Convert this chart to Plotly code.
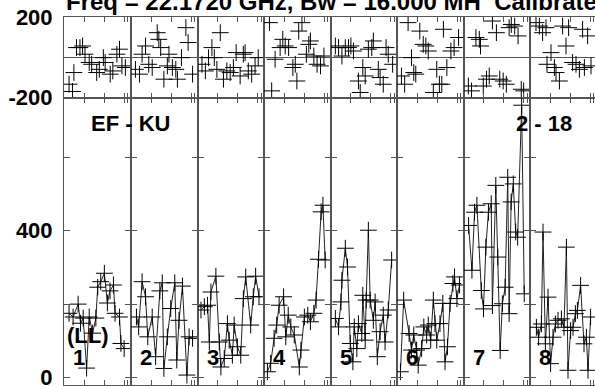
import plotly.graph_objects as go
from plotly.subplots import make_subplots

TITLE = "Freq = 22.1720 GHz, Bw = 16.000 MH  Calibrate"
BASELINE = "EF - KU"
PAIR = "2 - 18"
POL = "(LL)"
CHANNELS = ["1", "2", "3", "4", "5", "6", "7", "8"]

# one list per channel panel; time in hours inside the panel
PHASE_T = [
    [0.25, 0.42, 0.49, 0.62, 0.79, 0.92, 1.04, 1.25, 1.37, 1.62, 1.75, 1.95, 2.04, 2.29, 2.42, 2.62, 2.75, 2.87, 3.04],
    [0.22, 0.42, 0.55, 0.72, 0.88, 1.05, 1.3, 1.38, 1.47, 1.63, 1.8, 1.88, 2.05, 2.22, 2.3, 2.5, 2.72, 2.83, 3.05],
    [0.2, 0.37, 0.53, 0.7, 0.82, 0.95, 1.12, 1.28, 1.45, 1.62, 1.78, 1.92, 2.12, 2.28, 2.37, 2.53, 2.7, 2.87, 3.03],
    [0.27, 0.38, 0.55, 0.8, 0.93, 1.05, 1.22, 1.43, 1.55, 1.63, 1.72, 1.88, 2.1, 2.22, 2.3, 2.47, 2.63, 2.8, 2.97],
    [0.22, 0.38, 0.55, 0.72, 0.88, 1.0, 1.13, 1.38, 1.47, 1.6, 1.72, 1.88, 2.05, 2.13, 2.38, 2.47, 2.63, 2.77, 2.88, 3.1],
    [0.22, 0.38, 0.55, 0.72, 0.83, 0.93, 1.13, 1.3, 1.43, 1.55, 1.8, 1.97, 2.1, 2.22, 2.3, 2.47, 2.67, 2.83, 3.05],
    [0.22, 0.38, 0.6, 0.77, 0.83, 0.97, 1.13, 1.27, 1.43, 1.63, 1.8, 1.97, 2.13, 2.27, 2.38, 2.55, 2.72, 2.88, 3.0],
    [0.3, 0.47, 0.63, 0.8, 0.85, 1.05, 1.22, 1.3, 1.47, 1.63, 1.8, 1.93, 2.13, 2.3, 2.47, 2.63, 2.72, 2.88, 3.05],
]
PHASE = [
    [-134, -170, -76, 48, 48, 56, 15, -26, -35, -76, -60, -2, -26, -84, -68, 15, 40, -43, -51],
    [-60, -84, 15, 56, -35, -51, 122, 89, 48, -109, -43, 15, -51, -60, -109, -2, 147, 73, -84],
    [-35, -68, -2, 48, -2, -60, 122, -109, -68, -76, -51, 23, -93, 15, 23, -68, -84, -43, -2],
    [172, -167, -10, 48, 89, 56, 48, -51, -35, -118, 130, 172, 15, 64, 81, 6, -35, -43, 6],
    [56, 48, 6, 48, 48, 56, 31, -118, -175, -51, -93, 40, 48, 81, -60, -101, -134, 48, 15, -35],
    [-93, -134, 172, -2, -76, -84, 130, 64, 56, 31, -175, -60, -134, -134, 139, -51, 31, 48, 98],
    [-143, -167, 98, 89, 56, -143, -109, -93, 180, 122, -109, -118, -134, 147, 163, 155, 106, -159, -167],
    [172, 155, 122, 147, -35, 23, -51, -76, -118, 155, 56, 147, -26, -35, -60, 139, -51, 106, -43],
]
AMP_T = [
    [0.25, 0.45, 0.7, 0.82, 0.95, 1.12, 1.25, 1.42, 1.58, 1.67, 1.82, 2.0, 2.15, 2.28, 2.45, 2.53, 2.75, 2.82, 2.98],
    [0.27, 0.38, 0.55, 0.72, 0.83, 1.05, 1.22, 1.43, 1.55, 1.63, 1.8, 1.97, 2.17, 2.27, 2.38, 2.55, 2.77, 2.88, 3.05],
    [0.15, 0.32, 0.48, 0.57, 0.65, 0.9, 1.07, 1.15, 1.32, 1.48, 1.57, 1.73, 1.82, 1.98, 2.15, 2.28, 2.4, 2.65, 2.78, 2.9, 3.07],
    [0.17, 0.33, 0.5, 0.63, 0.75, 0.97, 1.08, 1.2, 1.33, 1.5, 1.75, 1.83, 2.0, 2.17, 2.3, 2.47, 2.58, 2.7, 2.83, 2.92, 3.03],
    [0.22, 0.38, 0.5, 0.55, 0.72, 0.83, 0.97, 1.1, 1.17, 1.3, 1.38, 1.55, 1.6, 1.72, 1.77, 1.88, 1.97, 2.13, 2.22, 2.33, 2.47, 2.63, 2.72, 2.88, 3.05],
    [0.17, 0.33, 0.6, 0.72, 0.83, 0.97, 1.05, 1.22, 1.33, 1.47, 1.55, 1.67, 1.8, 1.88, 1.97, 2.13, 2.27, 2.38, 2.5, 2.63, 2.77, 2.85, 2.97, 3.1],
    [0.23, 0.4, 0.53, 0.65, 0.87, 0.98, 1.1, 1.23, 1.37, 1.43, 1.6, 1.7, 1.82, 1.93, 2.07, 2.2, 2.27, 2.37, 2.48, 2.6, 2.7, 2.9, 3.03],
    [0.32, 0.43, 0.57, 0.65, 0.77, 0.9, 1.03, 1.15, 1.27, 1.4, 1.57, 1.7, 1.82, 1.9, 2.03, 2.15, 2.27, 2.37, 2.53, 2.7, 2.82, 2.9, 3.03],
]
AMP = [
    [175, 165, 200, 148, 162, 26, 165, 121, 162, 246, 261, 284, 203, 236, 252, 175, 165, 93, 79],
    [165, 138, 261, 220, 111, 165, 57, 236, 258, 25, 111, 188, 258, 48, 156, 249, 7, 111, 107],
    [184, 193, 197, 97, 233, 276, 97, 29, 52, 147, 102, 61, 143, 84, 61, 215, 274, 143, 220, 276, 220],
    [16, 39, 107, 143, 197, 220, 111, 170, 138, 116, 29, 75, 165, 170, 152, 175, 211, 322, 451, 469, 320],
    [161, 138, 206, 265, 352, 301, 93, 43, 138, 79, 147, 120, 224, 102, 211, 401, 211, 156, 206, 57, 125, 170, 97, 184, 320],
    [16, 211, 120, 75, 116, 75, 34, 79, 138, 116, 143, 102, 211, 147, 102, 147, 202, 43, 84, 202, 256, 274, 215, 252],
    [414, 292, 450, 469, 237, 187, 355, 450, 473, 196, 523, 328, 74, 201, 246, 545, 174, 478, 527, 396, 382, 741, 228],
    [137, 110, 146, 396, 92, 219, 38, 110, 146, 156, 160, 137, 355, 20, 128, 137, 174, 183, 251, 92, 110, 20, 165],
]

FONT = "Liberation Sans, Arial, Helvetica, sans-serif"
AX = "#555555"
N = len(CHANNELS)
BOLD22 = dict(size=22, color="black", family=FONT, weight="bold")

fig = make_subplots(
    rows=2, cols=N,
    column_widths=[67, 67, 66, 67, 66, 67, 66, 65],
    row_heights=[80.5, 287.5],
    horizontal_spacing=0, vertical_spacing=0,
)

cross = dict(symbol="cross-thin", size=12, line=dict(width=1, color="black"))

for k in range(N):
    fig.add_trace(go.Scatter(
        x=PHASE_T[k], y=PHASE[k], mode="markers", marker=cross,
        showlegend=False, hoverinfo="x+y",
    ), row=1, col=k + 1)
    fig.add_trace(go.Scatter(
        x=AMP_T[k], y=AMP[k], mode="lines+markers", marker=cross,
        line=dict(color="#222222", width=1),
        showlegend=False, hoverinfo="x+y",
    ), row=2, col=k + 1)
    fig.add_annotation(
        x=0.75, y=56, text=CHANNELS[k], showarrow=False, font=BOLD22,
        xanchor="center", yanchor="middle", row=2, col=k + 1,
    )

    last = k == N - 1
    xr = [0, 3.25] if last else [0, 3.32]
    for r in (1, 2):
        fig.update_xaxes(
            range=xr, tickvals=[1, 2, 3, 3.17], showticklabels=False,
            ticks="inside", ticklen=5, tickwidth=1, tickcolor=AX,
            showline=True, linecolor=AX, linewidth=1, mirror="ticks",
            showgrid=False, zeroline=False, automargin=False, row=r, col=k + 1,
        )
    fig.update_yaxes(
        range=[-200, 200], tickvals=[-200, 200], ticktext=["-200", "200"],
        showticklabels=(k == 0), ticks="",
        showline=True, linecolor=AX, linewidth=1,
        mirror=False if last else True,
        showgrid=False, zeroline=True, zerolinecolor=AX, zerolinewidth=1,
        tickfont=BOLD22, ticklabelstandoff=6, ticklabeloverflow="allow",
        automargin=False, row=1, col=k + 1,
    )
    fig.update_yaxes(
        range=[-20, 762], tickvals=[0, 200, 400, 600], ticktext=["0", "", "400", ""],
        showticklabels=(k == 0), ticks="inside", ticklen=6, tickwidth=1, tickcolor=AX,
        showline=True, linecolor=AX, linewidth=1,
        mirror=False if last else "ticks",
        showgrid=False, zeroline=False,
        tickfont=BOLD22, ticklabelstandoff=6, ticklabeloverflow="allow",
        automargin=False, row=2, col=k + 1,
    )

fig.add_annotation(x=3.28, y=691, text=BASELINE, showarrow=False, font=BOLD22,
                   xanchor="center", yanchor="middle", row=2, col=1)
fig.add_annotation(x=0.7, y=691, text=PAIR, showarrow=False, font=BOLD22,
                   xanchor="center", yanchor="middle", row=2, col=N)
fig.add_annotation(x=1.2, y=116, text=POL, showarrow=False, font=BOLD22,
                   xanchor="center", yanchor="middle", row=2, col=1)
fig.add_annotation(x=0.0, y=1.0, xref="paper", yref="paper", text=TITLE,
                   showarrow=False,
                   font=dict(size=24, color="black", family=FONT, weight="bold"),
                   xanchor="left", yanchor="bottom")

fig.update_layout(
    width=595, height=386,
    margin=dict(l=64, r=0, t=17, b=1),
    paper_bgcolor="white", plot_bgcolor="white",
    font=dict(family=FONT, color="black"),
    showlegend=False,
)

# drop the default 8px page margin so the figure sits at the window corner
fig.write_html("out.html", config={"displayModeBar": False},
               post_script="document.body.style.margin='0';")
